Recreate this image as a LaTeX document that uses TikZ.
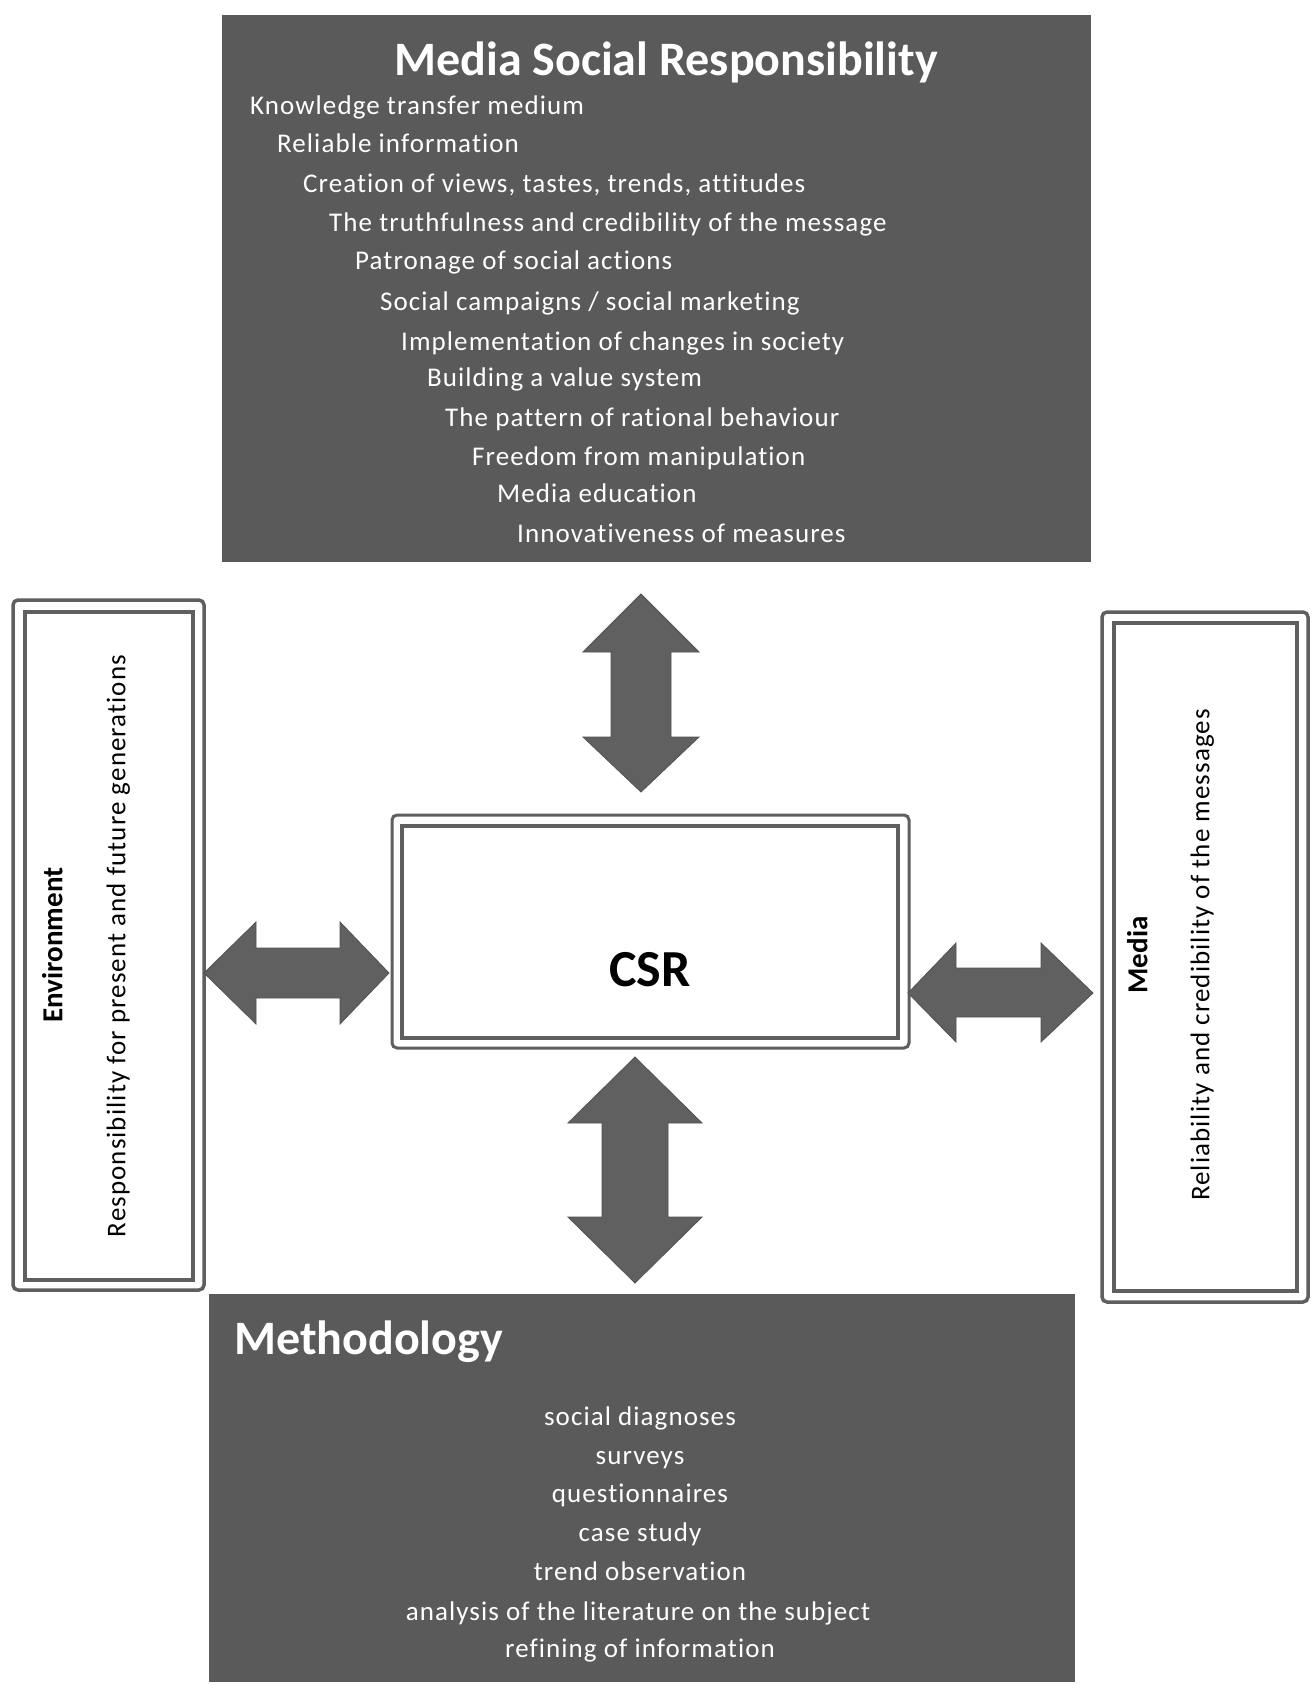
\documentclass[tikz,border=0pt]{standalone}
\usepackage{fontspec}
\setmainfont{Carlito}[Ligatures=NoCommon]
\newfontfamily\lsfont{Carlito}[Ligatures=NoCommon,LetterSpace=4]
\definecolor{boxgray}{RGB}{90,90,90}
\definecolor{linegray}{RGB}{95,95,95}
\definecolor{arrowgray}{RGB}{96,96,96}
\begin{document}
\begin{tikzpicture}[x=1pt,y=-1pt,
  darkbox/.style={fill=boxgray,draw=none},
  item/.style={font=\lsfont\fontsize{27}{32}\selectfont,text=white,anchor=base west,inner sep=0pt},
  mitem/.style={font=\lsfont\fontsize{27}{32}\selectfont,text=white,anchor=base,inner sep=0pt},
  outerframe/.style={draw=linegray,line width=3.5pt,rounded corners=5pt,fill=white},
  innerframe/.style={draw=linegray,line width=4.5pt},
  blockarrow/.style={fill=arrowgray,draw=arrowgray!85!black,line width=0.8pt,line join=miter},
  sidetext/.style={font=\lsfont\fontsize{27}{32}\selectfont,rotate=90,anchor=mid,inner sep=0pt},
  sidetitle/.style={font=\bfseries\fontsize{29}{34}\selectfont,rotate=90,anchor=mid,inner sep=0pt},
]
\fill[white] (0,0) rectangle (1314,1685);
\useasboundingbox (0,0) rectangle (1314,1685);

% ---- Media Social Responsibility box
\fill[darkbox] (222,15) rectangle (1091,562);
\node[font=\bfseries\fontsize{48}{56}\selectfont,text=white,anchor=base,inner sep=0pt] (msrtitle) at (666,76) {Media Social Responsibility};
\node[item] (m1)  at (250,115) {Knowledge transfer medium};
\node[item] (m2)  at (277,153) {Reliable information};
\node[item] (m3)  at (303,193) {Creation of views, tastes, trends, attitudes};
\node[item] (m4)  at (329,232) {The truthfulness and credibility of the message};
\node[item] (m5)  at (355,270) {Patronage of social actions};
\node[item] (m6)  at (380,310) {Social campaigns / social marketing};
\node[item] (m7)  at (401,350) {Implementation of changes in society};
\node[item] (m8)  at (427,386) {Building a value system};
\node[item] (m9)  at (445,426) {The pattern of rational behaviour};
\node[item] (m10) at (472,465) {Freedom from manipulation};
\node[item] (m11) at (497,502) {Media education};
\node[item] (m12) at (517,542) {Innovativeness of measures};

% ---- Methodology box
\fill[darkbox] (209,1294) rectangle (1075,1682);
\node[font=\bfseries\fontsize{48}{56}\selectfont,text=white,anchor=base west,inner sep=0pt] (mtitle) at (234,1354) {Methodology};
\node[mitem] (t1) at (640,1425) {social diagnoses};
\node[mitem] (t2) at (640,1464) {surveys};
\node[mitem] (t3) at (640,1502) {questionnaires};
\node[mitem] (t4) at (640,1541) {case study};
\node[mitem] (t5) at (640,1580) {trend observation};
\node[mitem] (t6) at (638,1620) {analysis of the literature on the subject};
\node[mitem] (t7) at (640,1657) {refining of information};

% ---- Environment box
\draw[outerframe] (13,600) rectangle (204,1290);
\draw[innerframe] (25,612) rectangle (193,1280);
\node[sidetitle] (envtitle) at (60,945) {Environment};
\node[sidetext] (envtext) at (123,946) {Responsibility for present and future generations};

% ---- Media box
\draw[outerframe] (1102,612) rectangle (1308,1302);
\draw[innerframe] (1114,623) rectangle (1297,1291);
\node[sidetitle] (medtitle) at (1145,955) {Media};
\node[sidetext] (medtext) at (1207,955) {Reliability and credibility of the messages};

% ---- CSR box
\draw[outerframe,line width=3pt] (392,815) rectangle (909,1048);
\draw[innerframe,line width=4pt] (402,826) rectangle (898,1038);
\node[font=\bfseries\fontsize{52}{60}\selectfont,anchor=base,inner sep=0pt] (csr) at (650,986) {CSR};

% ---- block arrows
% top vertical
\filldraw[blockarrow] (641,594) -- (699,652) -- (671,652) -- (671,737) -- (699,737) -- (641,792)
  -- (583,737) -- (611,737) -- (611,652) -- (583,652) -- cycle;
% bottom vertical
\filldraw[blockarrow] (635,1057) -- (702,1123) -- (668,1123) -- (668,1217) -- (702,1217) -- (635,1283)
  -- (568,1217) -- (602,1217) -- (602,1123) -- (568,1123) -- cycle;
% left horizontal
\filldraw[blockarrow] (204,973) -- (256,922) -- (256,948) -- (340,948) -- (340,922) -- (389,973)
  -- (340,1024) -- (340,998) -- (256,998) -- (256,1024) -- cycle;
% right horizontal
\filldraw[blockarrow] (908,993) -- (956,943) -- (956,968) -- (1041,968) -- (1041,943) -- (1093,993)
  -- (1041,1042) -- (1041,1017) -- (956,1017) -- (956,1042) -- cycle;
\end{tikzpicture}
\end{document}
